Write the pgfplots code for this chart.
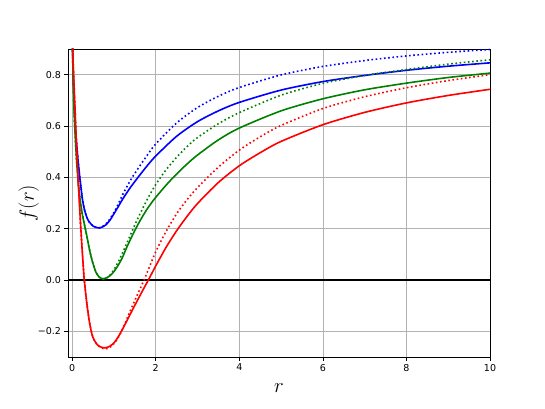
\documentclass[border=0pt]{standalone}
\usepackage{fontspec}
\setmainfont{DejaVu Sans}
\usepackage{pgfplots}
\pgfplotsset{compat=1.18}

\definecolor{mplgreen}{RGB}{0,128,0}

\begin{document}
\begin{tikzpicture}
\begin{axis}[
  scale only axis,
  width=422bp, height=308bp,
  xmin=-0.1, xmax=10, ymin=-0.3, ymax=0.9,
  xtick={0,2,4,6,8,10},
  ytick={-0.2,0,0.2,0.4,0.6,0.8},
  yticklabels={−0.2,0.0,0.2,0.4,0.6,0.8},
  grid=major,
  grid style={color=black!30, line width=0.7bp},
  axis line style={black, line width=0.7bp},
  tick align=outside, tick pos=left,
  major tick length=3.5bp,
  tick style={black, line width=0.7bp},
  /pgf/number format/assume math mode=true,
  ticklabel style={font=\fontsize{9.5bp}{11bp}\selectfont},
  xlabel={$r$}, ylabel={$f(r)$},
  label style={font=\fontsize{20bp}{24bp}\selectfont},
  xlabel style={at={(axis description cs:0.5,-0.1)}, anchor=center},
  ylabel style={at={(axis description cs:-0.093,0.5)}, anchor=center},
  solid/.style={line width=1.6bp, smooth, tension=0.45},
  dots/.style={line width=1.6bp, smooth, tension=0.45, dash pattern=on 1.6bp off 2.6bp},
]
\addplot[black, line width=1.4bp] coordinates {(-0.1,0) (10,0)};

% blue
\addplot[blue, solid] coordinates {
(0.0,0.96)(0.01,0.9)(0.03,0.77)(0.05,0.68)(0.07,0.61)(0.1,0.54)(0.15,0.45)
(0.2,0.375)(0.25,0.31)(0.3,0.27)(0.35,0.245)(0.4,0.228)(0.5,0.21)(0.6,0.204)
(0.65,0.203)(0.7,0.205)(0.8,0.214)(0.9,0.232)(1.0,0.258)(1.1,0.285)(1.2,0.313)
(1.4,0.362)(1.6,0.405)(1.8,0.446)(2.0,0.483)(2.5,0.56)(3.0,0.617)(3.5,0.659)
(4.0,0.692)(5.0,0.74)(6.0,0.773)(7.0,0.797)(8.0,0.817)(9.0,0.833)(10.0,0.846)
};
\addplot[blue, dots] coordinates {
(0.0,0.96)(0.01,0.9)(0.03,0.77)(0.05,0.68)(0.07,0.61)(0.1,0.54)(0.15,0.45)
(0.2,0.375)(0.25,0.31)(0.3,0.27)(0.35,0.245)(0.4,0.228)(0.5,0.21)(0.6,0.204)
(0.65,0.203)(0.7,0.206)(0.8,0.217)(0.9,0.237)(1.0,0.263)(1.1,0.295)(1.2,0.33)
(1.4,0.39)(1.6,0.44)(1.8,0.487)(2.0,0.53)(2.5,0.612)(3.0,0.672)(3.5,0.716)
(4.0,0.75)(5.0,0.799)(6.0,0.832)(7.0,0.855)(8.0,0.873)(9.0,0.887)(10.0,0.898)
};

% green
\addplot[mplgreen, solid] coordinates {
(0.0,0.95)(0.01,0.88)(0.03,0.74)(0.05,0.64)(0.07,0.57)(0.1,0.48)(0.14,0.39)
(0.16,0.355)(0.2,0.30)(0.25,0.25)(0.31,0.203)(0.35,0.172)(0.4,0.13)(0.45,0.093)
(0.5,0.063)(0.57,0.03)(0.65,0.011)(0.73,0.005)(0.8,0.007)(0.9,0.016)(1.0,0.033)
(1.1,0.057)(1.2,0.087)(1.3,0.125)(1.4,0.16)(1.5,0.193)(1.6,0.224)(1.7,0.252)
(1.8,0.278)(1.9,0.301)(2.0,0.322)(2.25,0.37)(2.5,0.413)(2.75,0.452)(3.0,0.487)
(3.5,0.546)(4.0,0.592)(5.0,0.659)(6.0,0.706)(7.0,0.741)(8.0,0.767)(9.0,0.789)
(10.0,0.806)
};
\addplot[mplgreen, dots] coordinates {
(0.0,0.95)(0.01,0.88)(0.03,0.74)(0.05,0.64)(0.07,0.57)(0.1,0.48)(0.14,0.39)
(0.16,0.355)(0.2,0.30)(0.25,0.25)(0.31,0.203)(0.35,0.172)(0.4,0.13)(0.45,0.093)
(0.5,0.063)(0.57,0.03)(0.65,0.011)(0.75,0.003)(0.8,0.005)(0.9,0.018)(1.0,0.04)
(1.1,0.07)(1.2,0.104)(1.3,0.14)(1.4,0.178)(1.5,0.215)(1.6,0.25)(1.8,0.315)
(2.0,0.372)(2.25,0.43)(2.5,0.478)(2.75,0.52)(3.0,0.555)(3.5,0.609)(4.0,0.652)
(5.0,0.72)(6.0,0.766)(7.0,0.797)(8.0,0.82)(9.0,0.841)(10.0,0.858)
};

% red
\addplot[red, solid] coordinates {
(0.0,0.96)(0.02,0.86)(0.05,0.74)(0.1,0.54)(0.15,0.37)(0.2,0.22)(0.25,0.09)
(0.29,0.0)(0.35,-0.09)(0.4,-0.15)(0.45,-0.195)(0.5,-0.225)(0.6,-0.252)
(0.7,-0.262)(0.8,-0.264)(0.9,-0.258)(1.0,-0.245)(1.1,-0.222)(1.2,-0.193)
(1.3,-0.162)(1.4,-0.13)(1.53,-0.089)(1.7,-0.037)(1.83,0.002)(2.0,0.055)
(2.25,0.128)(2.5,0.192)(2.75,0.248)(3.0,0.298)(3.5,0.38)(4.0,0.445)(4.5,0.496)
(5.0,0.54)(6.0,0.605)(7.0,0.653)(8.0,0.69)(9.0,0.719)(10.0,0.743)
};
\addplot[red, dots] coordinates {
(0.0,0.96)(0.02,0.86)(0.05,0.74)(0.1,0.54)(0.15,0.37)(0.2,0.22)(0.25,0.09)
(0.29,0.0)(0.35,-0.09)(0.4,-0.15)(0.45,-0.195)(0.5,-0.225)(0.6,-0.252)
(0.7,-0.265)(0.8,-0.268)(0.85,-0.267)(0.9,-0.263)(1.0,-0.248)(1.1,-0.225)
(1.2,-0.193)(1.3,-0.155)(1.4,-0.117)(1.53,-0.068)(1.72,0.0)(2.0,0.11)
(2.25,0.19)(2.5,0.258)(2.75,0.313)(3.0,0.36)(3.5,0.44)(4.0,0.506)(4.5,0.558)
(5.0,0.602)(6.0,0.668)(7.0,0.714)(8.0,0.749)(9.0,0.777)(10.0,0.80)
};

\coordinate (ll) at (rel axis cs:0,0);
\coordinate (ur) at (rel axis cs:1,1);
\end{axis}
\path ([shift={(-68bp,-52bp)}]ll) rectangle ([shift={(55bp,49bp)}]ur);
\end{tikzpicture}
\end{document}
